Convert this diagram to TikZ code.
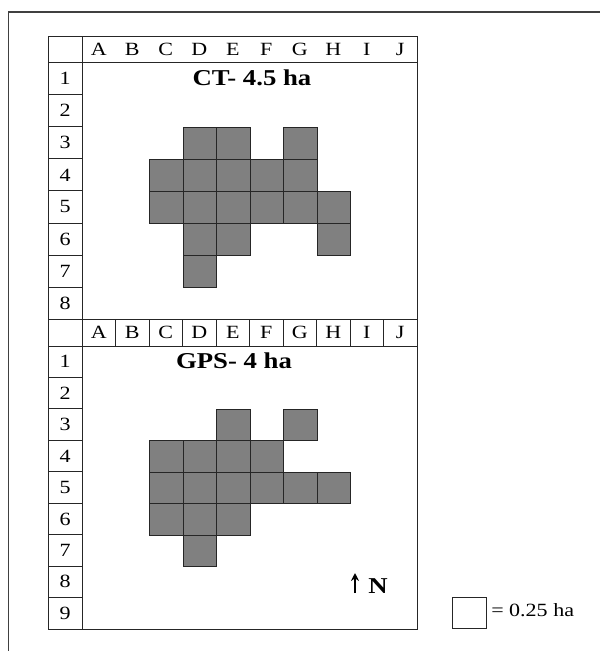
\documentclass[tikz,border=0pt]{standalone}
\usepackage{fontspec}
\setmainfont{Liberation Serif}[FakeStretch=1.18]
\usepackage{tikz}
\usetikzlibrary{positioning,arrows.meta}

\begin{document}
\begin{tikzpicture}[
    x=0.75pt, y=-0.75pt,
    grid/.style={
        draw=black!85,
        line width=0.75pt
    },
    frame/.style={
        draw=black!75,
        line width=1.2pt
    },
    cell/.style={
        draw=black!85,
        line width=0.75pt,
        fill=black!50,
        inner sep=0pt,
        anchor=north west,
        minimum width=25.125pt,
        minimum height=#1
    },
    cell/.default=24.075pt,
    lab/.style={
        font=\fontsize{14}{16}\selectfont,
        inner sep=0pt
    },
    ttl/.style={
        font=\fontsize{17}{19}\selectfont\bfseries,
        inner sep=0pt,
        anchor=base
    },
    arr/.style={-{Stealth[length=6pt,width=6pt,inset=2pt]}, line width=1pt}
]

\useasboundingbox (0,0) rectangle (600,651);
\clip (0,0) rectangle (600,651);

% page frame
\draw[frame] (8.3,660) -- (8.3,12) -- (610,12);

% first table: CT
\draw[grid] (48.5,36) rectangle (417,319.3);
\draw[grid] (82,36) -- (82,319.3);
\draw[grid] (48.5,62.5) -- (417,62.5);
\foreach \r in {1,...,7}
    \draw[grid] (48.5,{62.5+32.1*\r}) -- (82,{62.5+32.1*\r});

\foreach \l [count=\i] in {A,B,C,D,E,F,G,H,I,J}
    \node[lab] (ct-\l) at ({82+33.5*(\i-0.5)},49.25) {\l};
\foreach \r in {1,...,8}
    \node[lab] (ct-row\r) at (65.25,{62.5+32.1*(\r-0.5)}) {\r};

\node[ttl] (ct-title) at (252,85) {CT- 4.5 ha};

\foreach \c/\r in {4/3,5/3,7/3,
                   3/4,4/4,5/4,6/4,7/4,
                   3/5,4/5,5/5,6/5,7/5,8/5,
                   4/6,5/6,8/6,
                   4/7}
    \node[cell] (ct-\c-\r) at ({82+33.5*(\c-1)},{62.5+32.1*(\r-1)}) {};

% second table: GPS
\draw[grid] (48.5,319.3) rectangle (417,629);
\draw[grid] (82,319.3) -- (82,629);
\draw[grid] (48.5,346) -- (417,346);
\foreach \r in {1,...,8}
    \draw[grid] (48.5,{346+31.45*\r}) -- (82,{346+31.45*\r});
\foreach \i in {1,...,9}
    \draw[grid] ({82+33.5*\i},319.3) -- ({82+33.5*\i},346);

\foreach \l [count=\i] in {A,B,C,D,E,F,G,H,I,J}
    \node[lab] (gps-\l) at ({82+33.5*(\i-0.5)},332.65) {\l};
\foreach \r in {1,...,9}
    \node[lab] (gps-row\r) at (65.25,{346+31.45*(\r-0.5)}) {\r};

\node[ttl] (gps-title) at (234,368.3) {GPS- 4 ha};

\foreach \c/\r in {5/3,7/3,
                   3/4,4/4,5/4,6/4,
                   3/5,4/5,5/5,6/5,7/5,8/5,
                   3/6,4/6,5/6,
                   4/7}
    \node[cell=23.5875pt] (gps-\c-\r) at ({82+33.5*(\c-1)},{346+31.45*(\r-1)}) {};

% north sign
\node[ttl, anchor=base west] (north) at (368,593) {N};
\coordinate (north-foot) at ([xshift=-9.75pt]north.base west);
\draw[arr] (north-foot) -- ++(0,-20);

% key
\node[cell=23.5875pt, fill=white] (key) at (452,597) {};
\node[lab, anchor=base west] (key-text) at (491,616) {= 0.25 ha};

\end{tikzpicture}
\end{document}
